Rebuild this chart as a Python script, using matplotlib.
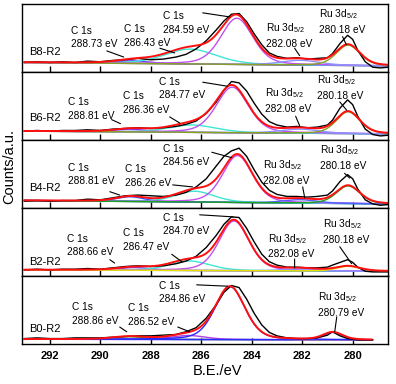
import numpy as np
import matplotlib.pyplot as plt

plt.rcParams['font.family'] = ['Liberation Sans', 'DejaVu Sans']
plt.rcParams['mathtext.fontset'] = 'custom'
plt.rcParams['mathtext.rm'] = 'Liberation Sans'
plt.rcParams['mathtext.it'] = 'Liberation Sans'

samples = ['B8-R2', 'B6-R2', 'B4-R2', 'B2-R2', 'B0-R2']
xticks = [292, 290, 288, 286, 284, 282, 280]

# fitted peak positions (eV)
pos_c_a = [288.73, 288.81, 288.81, 288.66, 288.86]
pos_c_b = [286.43, 286.36, 286.26, 286.47, 286.52]
pos_c_c = [284.59, 284.77, 284.56, 284.70, 284.86]
pos_ru_a = [282.08, 282.08, 282.08, 282.08, 282.08]
pos_ru_b = [280.18, 280.18, 280.18, 280.18, 280.79]

# peak heights above background (normalised panel units)
h_c_a = [0.04, 0.04, 0.07, 0.04, 0.04]
h_c_b = [0.22, 0.11, 0.16, 0.14, 0.06]
h_c_c = [0.68, 0.67, 0.69, 0.73, 0.78]
h_ru_a = [0.07, 0.06, 0.05, 0.03, 0.0]
h_ru_b = [0.30, 0.32, 0.26, 0.07, 0.11]

# fwhm (eV)
w_c_a = [1.5, 1.5, 1.3, 1.5, 1.5]
w_c_b = [2.4, 2.2, 1.8, 1.9, 1.6]
w_c_c = [1.5, 1.5, 1.4, 1.4, 1.4]
w_ru_a = [1.8, 1.8, 1.6, 1.6, 1.6]
w_ru_b = [1.1, 1.1, 1.1, 1.1, 0.9]

# linear background, high-BE end / low-BE end
bg_left = [0.14, 0.13, 0.11, 0.09, 0.07]
bg_right = [0.09, 0.09, 0.06, 0.07, 0.06]

be_raw = [293.0, 292.5, 292.0, 291.5, 291.0, 290.5, 290.0, 289.5, 289.0, 288.5,
          288.0, 287.5, 287.0, 286.6, 286.2, 285.8, 285.4, 285.1, 284.8, 284.5,
          284.2, 283.9, 283.6, 283.3, 283.0, 282.6, 282.2, 281.8, 281.4, 281.0,
          280.8, 280.5, 280.2, 280.0, 279.8, 279.5, 279.2, 278.9, 278.6]
raw_b8 = [0.14, 0.15, 0.14, 0.15, 0.14, 0.16, 0.15, 0.17, 0.18, 0.20,
          0.18, 0.19, 0.22, 0.26, 0.34, 0.46, 0.62, 0.75, 0.85, 0.86,
          0.74, 0.56, 0.40, 0.28, 0.23, 0.20, 0.21, 0.19, 0.20, 0.21,
          0.27, 0.42, 0.54, 0.48, 0.32, 0.15, 0.07, 0.06, 0.07]
raw_b6 = [0.13, 0.14, 0.13, 0.14, 0.14, 0.15, 0.14, 0.16, 0.17, 0.18,
          0.17, 0.18, 0.20, 0.23, 0.28, 0.39, 0.56, 0.73, 0.86, 0.84,
          0.72, 0.54, 0.38, 0.27, 0.22, 0.19, 0.20, 0.18, 0.19, 0.22,
          0.29, 0.47, 0.59, 0.52, 0.35, 0.16, 0.08, 0.06, 0.07]
raw_b4 = [0.10, 0.11, 0.10, 0.11, 0.11, 0.13, 0.12, 0.15, 0.18, 0.19,
          0.18, 0.17, 0.19, 0.23, 0.31, 0.43, 0.62, 0.76, 0.84, 0.88,
          0.76, 0.56, 0.38, 0.26, 0.20, 0.17, 0.17, 0.16, 0.17, 0.19,
          0.25, 0.39, 0.49, 0.43, 0.28, 0.12, 0.06, 0.04, 0.05]
raw_b2 = [0.09, 0.10, 0.09, 0.10, 0.10, 0.11, 0.10, 0.12, 0.14, 0.15,
          0.14, 0.15, 0.18, 0.22, 0.29, 0.42, 0.60, 0.76, 0.87, 0.86,
          0.70, 0.50, 0.32, 0.21, 0.16, 0.13, 0.13, 0.12, 0.12, 0.13,
          0.16, 0.20, 0.24, 0.20, 0.13, 0.07, 0.06, 0.06, 0.06]
raw_b0 = [0.08, 0.09, 0.08, 0.08, 0.09, 0.09, 0.09, 0.10, 0.11, 0.12,
          0.12, 0.13, 0.14, 0.18, 0.24, 0.38, 0.58, 0.76, 0.86, 0.83,
          0.66, 0.45, 0.28, 0.17, 0.12, 0.09, 0.08, 0.08, 0.09, 0.13,
          0.18, 0.12, 0.08, 0.07, 0.06, 0.06, 0.06, np.nan, np.nan]
raw = [raw_b8, raw_b6, raw_b4, raw_b2, raw_b0]
be_end = [278.6, 278.6, 278.6, 278.6, 279.25]

# component colours per panel: C a, C b, C c, Ru a, Ru b, background
colors = [
    ['#7a3cff', '#3ee6d6', '#c050f0', '#9090ff', '#8aa020', '#7a9a20'],
    ['#7a3cff', '#3ee6d6', '#c050f0', '#9090ff', '#8aa020', '#7a9a20'],
    ['#3050ff', '#3ee6d6', '#c050f0', '#5060ff', '#20a020', '#20a020'],
    ['#7a3cff', '#3ee6d6', '#c050f0', '#9090ff', '#e8e000', '#8aa020'],
    ['#30a030', '#b040e0', '#2a2aff', '#2a2aff', '#2a2aff', '#7a3cff'],
]

# labels: left BE, centre y, leader start (BE, y), leader end (BE, y)
c_lbl = [
    [(291.17, 0.51, (289.74, 0.31), (289.07, 0.22)),
     (289.07, 0.53, (287.64, 0.35), (287.05, 0.28)),
     (287.52, 0.72, (285.94, 0.87), (284.87, 0.81))],
    [(291.29, 0.46, (289.55, 0.30), (289.20, 0.24)),
     (289.11, 0.54, (287.25, 0.34), (286.85, 0.25)),
     (287.68, 0.76, (285.94, 0.85), (284.95, 0.79))],
    [(291.29, 0.49, (289.62, 0.24), (289.23, 0.19)),
     (289.03, 0.47, (287.13, 0.34), (286.34, 0.31)),
     (287.52, 0.77, (285.58, 0.82), (284.79, 0.74))],
    [(291.33, 0.45, (289.62, 0.24), (289.43, 0.19)),
     (289.11, 0.53, (287.17, 0.32), (286.77, 0.21)),
     (287.52, 0.76, (286.06, 0.90), (284.75, 0.87))],
    [(291.13, 0.44, (289.23, 0.25), (288.95, 0.18)),
     (288.91, 0.43, (286.93, 0.25), (286.46, 0.18)),
     (287.68, 0.76, (286.18, 0.87), (284.95, 0.85))],
]
ru_lbl = [
    [(283.45, 0.54, (282.30, 0.35), (282.10, 0.24)),
     (281.35, 0.75, (280.40, 0.52), (280.25, 0.40))],
    [(283.49, 0.59, (282.26, 0.35), (282.10, 0.21)),
     (281.43, 0.78, (280.51, 0.56), (280.24, 0.44))],
    [(283.56, 0.53, (281.98, 0.31), (281.90, 0.15)),
     (281.31, 0.75, (280.32, 0.51), (280.12, 0.44))],
    [(283.37, 0.45, (282.30, 0.25), (282.30, 0.12)),
     (281.19, 0.66, (280.51, 0.43), (280.04, 0.18))],
    [None,
     (281.39, 0.59, (280.63, 0.40), (280.71, 0.18))],
]
name_y = [0.29, 0.32, 0.29, 0.21, 0.22]


def pv(x, c, h, w, eta=0.3):
    g = np.exp(-4 * np.log(2) * ((x - c) / w) ** 2)
    l = 1 / (1 + 4 * ((x - c) / w) ** 2)
    return h * ((1 - eta) * g + eta * l)


def leader(ax, p0, p1):
    ax.annotate('', xy=p1, xytext=p0,
                arrowprops=dict(arrowstyle='-', color='black', lw=0.8,
                                shrinkA=0, shrinkB=0))


fig, axes = plt.subplots(5, 1, sharex=True, figsize=(3.96, 3.84), dpi=100)
fig.subplots_adjust(left=22 / 396, right=388 / 396, top=1 - 4 / 384,
                    bottom=1 - 344 / 384, hspace=0)

for i, ax in enumerate(axes):
    x = np.linspace(293.0, be_end[i], 600)
    bg = bg_left[i] + (bg_right[i] - bg_left[i]) * (293.0 - x) / (293.0 - 278.6)
    comps = [
        pv(x, pos_c_a[i], h_c_a[i], w_c_a[i]),
        pv(x, pos_c_b[i], h_c_b[i], w_c_b[i]),
        pv(x, pos_c_c[i], h_c_c[i], w_c_c[i]),
        pv(x, pos_ru_a[i], h_ru_a[i], w_ru_a[i]),
        pv(x, pos_ru_b[i], h_ru_b[i], w_ru_b[i]),
    ]
    col = colors[i]
    ax.plot(x, bg, color=col[5], lw=1.0)
    for k, cpt in enumerate(comps):
        if h_ru_a[i] == 0 and k == 3:
            continue
        ax.plot(x, bg + cpt, color=col[k], lw=1.0)
    ax.plot(be_raw, raw[i], color='black', lw=1.0)
    ax.plot(x, bg + sum(comps), color='#ff1010', lw=1.4)

    ax.text(292.8, name_y[i], samples[i], fontsize=8, ha='left', va='center')
    c_pos = [pos_c_a[i], pos_c_b[i], pos_c_c[i]]
    for (tx, ty, p0, p1), p in zip(c_lbl[i], c_pos):
        ax.text(tx, ty, 'C 1s\n%.2f eV' % p, fontsize=7.3, ha='left', va='center',
                linespacing=1.45)
        leader(ax, p0, p1)
    ru_pos = [pos_ru_a[i], pos_ru_b[i]]
    for lbl, p in zip(ru_lbl[i], ru_pos):
        if lbl is None:
            continue
        tx, ty, p0, p1 = lbl
        ax.text(tx, ty, 'Ru 3d$_{5/2}$\n%.2f eV' % p, fontsize=7.3, ha='left',
                va='center', linespacing=1.45)
        leader(ax, p0, p1)

    ax.set_ylim(0, 1)
    ax.set_yticks([])
    ax.set_xlim(293.1, 278.6)
    ax.set_xticks(xticks)
    ax.tick_params(axis='x', direction='in', length=4, width=1, pad=5,
                   labelsize=8)
    for s in ax.spines.values():
        s.set_linewidth(1.0)

for lab in axes[-1].get_xticklabels():
    lab.set_fontweight('bold')

fig.text(218 / 396, 1 - 371 / 384, 'B.E./eV', fontsize=10.5, ha='center', va='center')
fig.text(9 / 396, 1 - 166 / 384, 'Counts/a.u.', fontsize=10.5, ha='center',
         va='center', rotation=90)

fig.savefig('out.png', dpi=100)
